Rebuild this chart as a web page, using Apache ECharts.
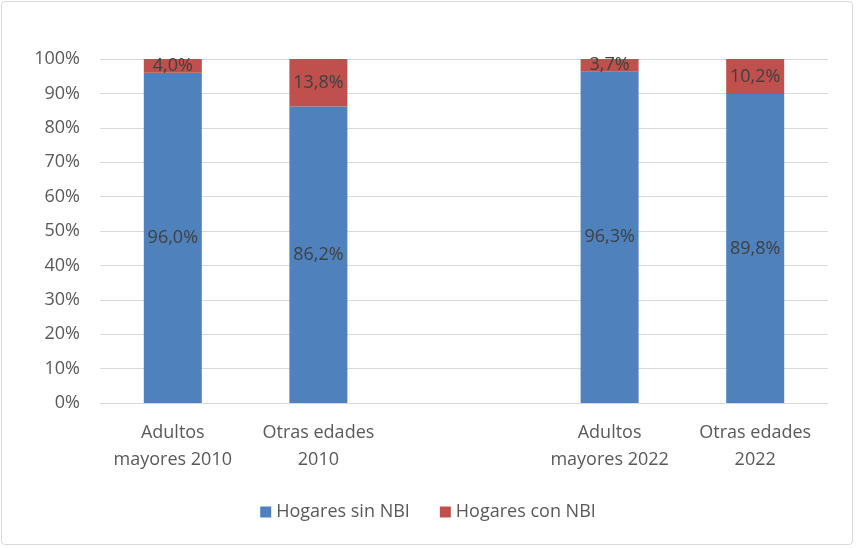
<!DOCTYPE html>
<html><head><meta charset="utf-8">
<script src="https://cdn.jsdelivr.net/npm/echarts@6/dist/echarts.min.js"></script>
<style>html,body{margin:0;padding:0;background:#fff}#c{width:856px;height:548px}
#frame{position:absolute;left:1px;top:1px;width:852px;height:544px;border:1px solid #d9d9d9;border-radius:4px;box-sizing:border-box;pointer-events:none}</style>
</head><body><div id="c"></div><div id="frame"></div>
<script>
const categories = ["Adultos\nmayores 2010", "Otras edades\n2010", "", "Adultos\nmayores 2022", "Otras edades\n2022"];
const sinNBI = [96.0, 86.2, null, 96.3, 89.8];
const conNBI = [4.0, 13.8, null, 3.7, 10.2];
const yTicks = [0, 10, 20, 30, 40, 50, 60, 70, 80, 90, 100];
const fmt = v => v.toFixed(1).replace('.', ',') + '%';
const font = 'Open Sans, Liberation Sans, sans-serif';
const chart = echarts.init(document.getElementById('c'));
chart.setOption({
  animation: false,
  grid: {left: 100, right: 28, top: 59, bottom: 145},
  legend: {
    bottom: 22, left: 'center', itemWidth: 11, itemHeight: 11, itemGap: 30,
    icon: 'rect',
    textStyle: {color: '#595959', fontSize: 18, fontFamily: font}
  },
  xAxis: {
    type: 'category', data: categories,
    axisLine: {lineStyle: {color: '#d9d9d9'}},
    axisTick: {show: false},
    axisLabel: {color: '#595959', fontSize: 18, fontFamily: font, lineHeight: 27, margin: 16, interval: 0}
  },
  yAxis: {
    type: 'value', min: yTicks[0], max: yTicks[yTicks.length-1], interval: 10,
    axisLabel: {color: '#595959', fontSize: 18, fontFamily: font, formatter: v => v + '%', margin: 20},
    splitLine: {lineStyle: {color: '#d9d9d9', width: 1}},
    axisLine: {show: false}, axisTick: {show: false}
  },
  series: [
    {name: 'Hogares sin NBI', type: 'bar', stack: 's', data: sinNBI, barWidth: 58,
     itemStyle: {color: '#4F81BD'},
     label: {show: true, position: 'inside', color: '#404040', fontSize: 18, fontFamily: font, formatter: p => fmt(p.value)}},
    {name: 'Hogares con NBI', type: 'bar', stack: 's', data: conNBI, barWidth: 58,
     itemStyle: {color: '#C0504D'},
     label: {show: true, position: 'inside', color: '#404040', fontSize: 18, fontFamily: font, formatter: p => fmt(p.value)}}
  ]
});
</script></body></html>
